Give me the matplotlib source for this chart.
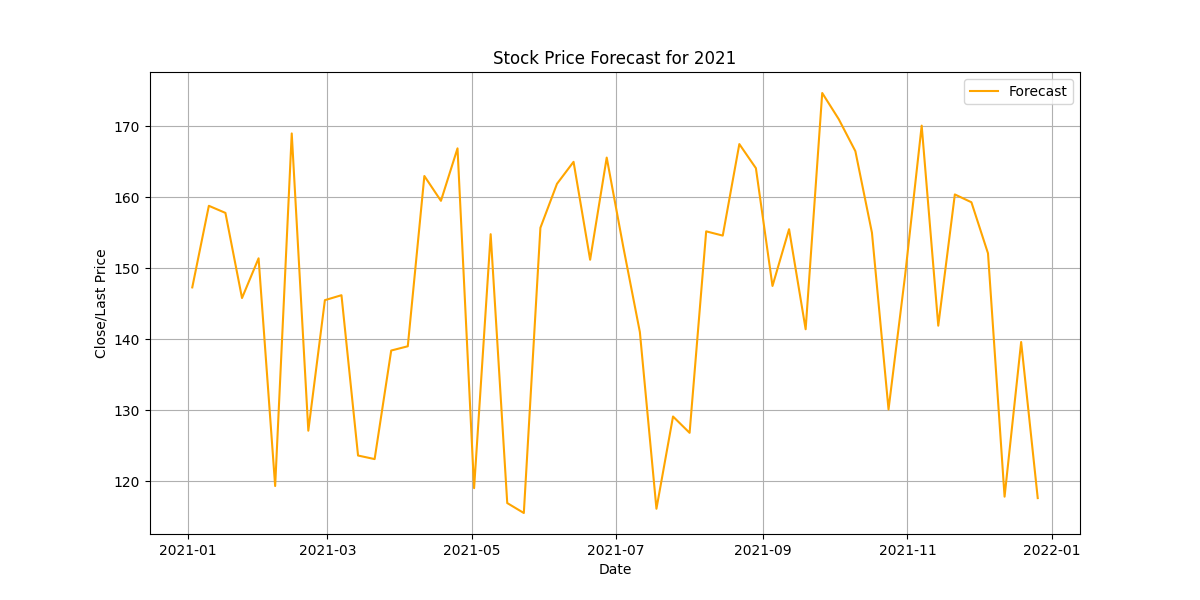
import matplotlib
matplotlib.use("Agg")
import matplotlib.pyplot as plt
import pandas as pd

dates = pd.date_range("2021-01-03", periods=52, freq="7D")
values = [147.3, 158.8, 157.8, 145.8, 151.4, 119.3, 169.0, 127.1, 145.5, 146.2,
          123.6, 123.1, 138.4, 139.0, 163.0, 159.5, 166.9, 119.0, 154.8, 116.9,
          115.5, 155.7, 161.9, 165.0, 151.2, 165.6, 153.0, 141.0, 116.1, 129.1,
          126.8, 155.2, 154.6, 167.5, 164.1, 147.5, 155.5, 141.4, 174.7, 171.0,
          166.5, 155.0, 130.1, 149.0, 170.1, 141.9, 160.4, 159.3, 152.1, 117.8,
          139.6, 117.6]

fig, ax = plt.subplots(figsize=(12, 6), dpi=100)
ax.plot(dates, values, color="orange", label="Forecast")
ax.set_title("Stock Price Forecast for 2021")
ax.set_xlabel("Date")
ax.set_ylabel("Close/Last Price")
ax.grid(True)
ax.legend(loc="upper right")
fig.savefig("out.png")
